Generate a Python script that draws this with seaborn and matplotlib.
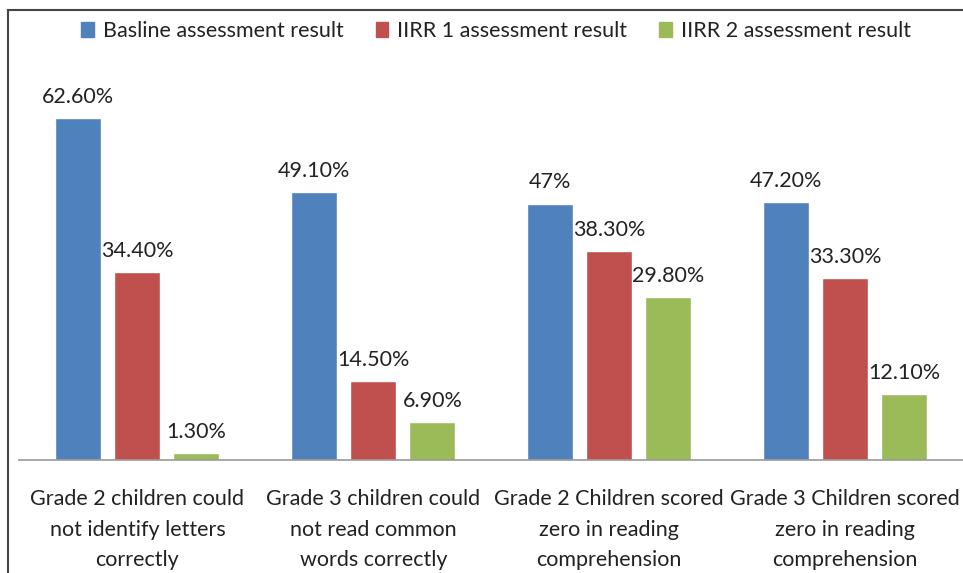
import seaborn as sns
import pandas as pd
import matplotlib.pyplot as plt
from matplotlib.patches import Rectangle

categories = [
    "Grade 2 children could\nnot identify letters\ncorrectly",
    "Grade 3 children could\nnot read common\nwords correctly",
    "Grade 2 Children scored\nzero in reading\ncomprehension",
    "Grade 3 Children scored\nzero in reading\ncomprehension",
]
series = ["Basline assessment result", "IIRR 1 assessment result", "IIRR 2 assessment result"]
baseline = [62.6, 49.1, 47.0, 47.2]
iirr1 = [34.4, 14.5, 38.3, 33.3]
iirr2 = [1.3, 6.9, 29.8, 12.1]
value_labels = [
    ["62.60%", "49.10%", "47%", "47.20%"],
    ["34.40%", "14.50%", "38.30%", "33.30%"],
    ["1.30%", "6.90%", "29.80%", "12.10%"],
]
colors = ["#4F81BD", "#C0504D", "#9BBB59"]

rows = []
for s, vals in zip(series, [baseline, iirr1, iirr2]):
    for c, v in zip(categories, vals):
        rows.append({"category": c, "series": s, "value": v})
df = pd.DataFrame(rows)

sns.set_style("white")
plt.rcParams["font.family"] = ["Lato", "DejaVu Sans"]

fig = plt.figure(figsize=(9.63, 5.73), dpi=100)
ax = fig.add_axes([0.0202, 0.197, 0.98, 0.667])

sns.barplot(data=df, x="category", y="value", hue="series", palette=colors,
            width=0.75, gap=0.22, saturation=1, ax=ax, legend=False)

for cont, labs in zip(ax.containers, value_labels):
    ax.bar_label(cont, labels=labs, padding=8, fontsize=15.5, color="#222222")

ax.set_ylim(0, 70)
ax.set_xlim(-0.5, 3.5)
ax.set_xlabel("")
ax.set_ylabel("")
ax.set_yticks([])
for side in ["top", "left", "right"]:
    ax.spines[side].set_visible(False)
ax.spines["bottom"].set_color("#999999")
ax.spines["bottom"].set_linewidth(1.2)
ax.tick_params(axis="x", length=0, pad=21, labelsize=15.5, labelcolor="#222222")
for t in ax.get_xticklabels():
    t.set_linespacing(1.65)

handles = [plt.Rectangle((0, 0), 1, 1, color=c) for c in colors]
fig.legend(handles, series, loc="upper center", bbox_to_anchor=(0.515, 0.997),
           ncol=3, frameon=False, fontsize=15.5, handlelength=0.6, handleheight=0.7,
           handletextpad=0.4, columnspacing=1.5, labelcolor="#222222")

# outer frame (left and top edges visible)
fig.patches.append(Rectangle((8 / 963, -0.05), 1.2, 1 - 10 / 573 + 0.05,
                             transform=fig.transFigure, fill=False,
                             edgecolor="#444444", linewidth=1.5))

fig.savefig("out.png", dpi=100)
